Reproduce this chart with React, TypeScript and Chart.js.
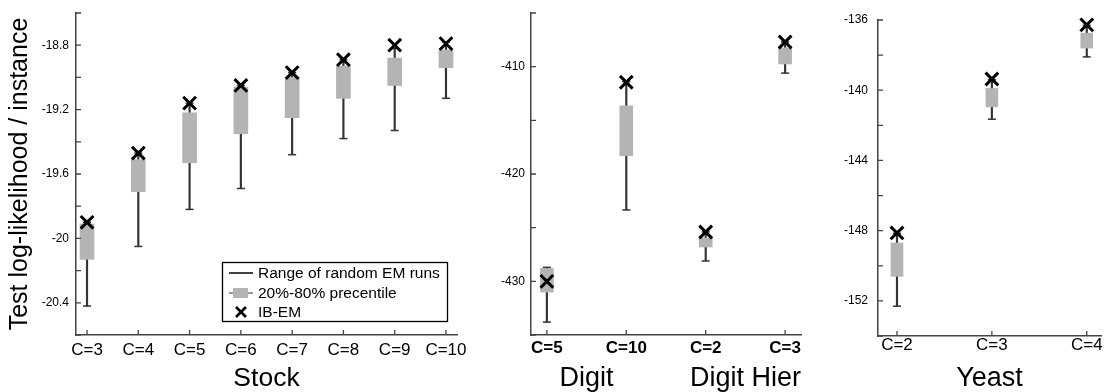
import React, { useEffect, useRef } from 'react';
import { Chart, registerables } from 'chart.js';

Chart.register(...registerables);

const FONT = '"Liberation Sans", Arial, Helvetica, sans-serif';
const AXIS_COLOR = '#444444';
const BOX_COLOR = '#b4b4b4';
const WHISKER_COLOR = '#333333';

// ---------- Stock ----------
const stockCategories = ['C=3', 'C=4', 'C=5', 'C=6', 'C=7', 'C=8', 'C=9', 'C=10'];
const stockPositions = [3, 4, 5, 6, 7, 8, 9, 10];
const stockRangeLow = [-20.42, -20.05, -19.82, -19.69, -19.48, -19.38, -19.33, -19.13];
const stockRangeHigh = [-19.9, -19.47, -19.16, -19.05, -18.97, -18.89, -18.82, -18.78];
const stockBoxLow = [-20.13, -19.71, -19.53, -19.35, -19.25, -19.13, -19.05, -18.94];
const stockBoxHigh = [-19.91, -19.51, -19.22, -19.06, -19.0, -18.93, -18.88, -18.83];
const stockIBEM = [-19.9, -19.47, -19.16, -19.05, -18.97, -18.89, -18.8, -18.79];

// ---------- Digit / Digit Hier ----------
const digitCategories = ['C=5', 'C=10', 'C=2', 'C=3'];
const digitPositions = [1, 2, 3, 4];
const digitRangeLow = [-433.8, -423.35, -428.1, -410.6];
const digitRangeHigh = [-428.7, -411.4, -425.4, -407.7];
const digitBoxLow = [-431.0, -418.3, -426.8, -409.75];
const digitBoxHigh = [-428.8, -413.65, -425.95, -408.25];
const digitIBEM = [-430.0, -411.45, -425.4, -407.7];
const digitGroupTitles = ['Digit', 'Digit Hier'];
const digitGroupCenters = [1.5, 3.5];

// ---------- Yeast ----------
const yeastCategories = ['C=2', 'C=3', 'C=4'];
const yeastPositions = [1, 2, 3];
const yeastRangeLow = [-152.3, -141.65, -138.1];
const yeastRangeHigh = [-148.15, -139.4, -136.3];
const yeastBoxLow = [-150.6, -140.95, -137.6];
const yeastBoxHigh = [-148.7, -139.9, -136.75];
const yeastIBEM = [-148.13, -139.36, -136.28];

// legend labels
const legendLabels = ['Range of random EM runs', '20%-80% precentile', 'IB-EM'];

type PanelProps = {
  left: number;
  width: number;
  categories: string[];
  positions: number[];
  rangeLow: number[];
  rangeHigh: number[];
  boxLow: number[];
  boxHigh: number[];
  ibem: number[];
  xMin: number;
  xMax: number;
  yMin: number;
  yMax: number;
  yStep: number;
  labelBase: number;
  labelStep: number;
  decimals: number;
  yWidth: number;
  yPad: number;
  padTop: number;
  padRight: number;
  xHeight: number;
  xPad: number;
  xBold: boolean;
  boxWidth: number;
  xTitle?: string;
  xTitleSize?: number;
  yTitle?: string;
  showLegend?: boolean;
  groupTitles?: string[];
  groupCenters?: number[];
};

const innerTicks = {
  id: 'innerTicks',
  afterDatasetsDraw(chart: any) {
    const { ctx, chartArea: a, scales } = chart;
    const x = scales.x;
    const y = scales.y;
    ctx.save();
    ctx.strokeStyle = AXIS_COLOR;
    ctx.lineWidth = 1.3;
    ctx.beginPath();
    y.ticks.forEach((t: any) => {
      const py = y.getPixelForValue(t.value);
      ctx.moveTo(a.left, py);
      ctx.lineTo(a.left + 5, py);
    });
    x.ticks.forEach((t: any) => {
      const px = x.getPixelForValue(t.value);
      ctx.moveTo(px, a.bottom);
      ctx.lineTo(px, a.bottom - 5);
    });
    ctx.stroke();
    ctx.restore();
  },
};

function makeLegendPlugin() {
  return {
    id: 'boxLegend',
    afterDraw(chart: any) {
      const ctx = chart.ctx;
      const bx = 222;
      const by = 262;
      const bw = 225;
      const bh = 59;
      ctx.save();
      ctx.fillStyle = '#ffffff';
      ctx.fillRect(bx, by, bw, bh);
      ctx.strokeStyle = '#000';
      ctx.lineWidth = 1.3;
      ctx.strokeRect(bx + 0.5, by + 0.5, bw, bh);
      const rows = [273, 293, 312];
      ctx.strokeStyle = '#000';
      ctx.lineWidth = 1.5;
      ctx.beginPath();
      ctx.moveTo(229, rows[0]);
      ctx.lineTo(253, rows[0]);
      ctx.stroke();
      ctx.strokeStyle = WHISKER_COLOR;
      ctx.lineWidth = 1;
      ctx.beginPath();
      ctx.moveTo(229, rows[1]);
      ctx.lineTo(253, rows[1]);
      ctx.stroke();
      ctx.fillStyle = BOX_COLOR;
      ctx.fillRect(233, rows[1] - 5, 15, 10);
      ctx.strokeStyle = '#000';
      ctx.lineWidth = 2.6;
      ctx.beginPath();
      ctx.moveTo(236, rows[2] - 5);
      ctx.lineTo(246, rows[2] + 5);
      ctx.moveTo(246, rows[2] - 5);
      ctx.lineTo(236, rows[2] + 5);
      ctx.stroke();
      ctx.fillStyle = '#000';
      ctx.font = `15.5px ${FONT}`;
      ctx.textAlign = 'left';
      ctx.textBaseline = 'middle';
      legendLabels.forEach((l, i) => ctx.fillText(l, 258, rows[i] + 1));
      ctx.restore();
    },
  };
}

function makeGroupTitlePlugin(titles: string[], centers: number[]) {
  return {
    id: 'groupTitles',
    afterDraw(chart: any) {
      const ctx = chart.ctx;
      const x = chart.scales.x;
      ctx.save();
      ctx.fillStyle = '#000';
      ctx.font = `27px ${FONT}`;
      ctx.textAlign = 'center';
      ctx.textBaseline = 'middle';
      titles.forEach((t, i) => ctx.fillText(t, x.getPixelForValue(centers[i]), 379));
      ctx.restore();
    },
  };
}

function BoxPanel(p: PanelProps) {
  const ref = useRef<HTMLCanvasElement | null>(null);
  useEffect(() => {
    if (!ref.current) return;
    const whiskers = p.positions.map((x, i) => ({ x, y: [p.rangeLow[i], p.rangeHigh[i]] }));
    const caps = [
      ...p.positions.map((x, i) => ({ x, y: p.rangeLow[i] })),
      ...p.positions.map((x, i) => ({ x, y: p.rangeHigh[i] })),
    ];
    const boxes = p.positions.map((x, i) => ({ x, y: [p.boxLow[i], p.boxHigh[i]] }));
    const ib = p.positions.map((x, i) => ({ x, y: p.ibem[i] }));
    const isLabel = (v: number) => {
      const k = (v - p.labelBase) / p.labelStep;
      return Math.abs(k - Math.round(k)) < 1e-6;
    };
    const plugins: any[] = [innerTicks];
    if (p.showLegend) plugins.push(makeLegendPlugin());
    if (p.groupTitles && p.groupCenters) plugins.push(makeGroupTitlePlugin(p.groupTitles, p.groupCenters));

    const chart = new Chart(ref.current, {
      type: 'bar',
      data: {
        datasets: [
          {
            type: 'bar',
            label: legendLabels[0],
            data: whiskers as any,
            backgroundColor: WHISKER_COLOR,
            borderWidth: 0,
            barThickness: 1.5,
            grouped: false,
            order: 4,
          } as any,
          {
            type: 'scatter',
            label: 'caps',
            data: caps,
            pointStyle: 'line',
            pointRadius: 4,
            pointHoverRadius: 4,
            borderColor: WHISKER_COLOR,
            backgroundColor: WHISKER_COLOR,
            borderWidth: 1.5,
            order: 3,
            clip: false,
          } as any,
          {
            type: 'bar',
            label: legendLabels[1],
            data: boxes as any,
            backgroundColor: BOX_COLOR,
            borderWidth: 0,
            barThickness: p.boxWidth,
            grouped: false,
            order: 2,
          } as any,
          {
            type: 'scatter',
            label: legendLabels[2],
            data: ib,
            pointStyle: 'crossRot',
            pointRadius: 9,
            pointHoverRadius: 9,
            borderColor: '#000',
            backgroundColor: '#000',
            borderWidth: 3,
            order: 1,
            clip: false,
          } as any,
        ],
      },
      options: {
        animation: false,
        responsive: false,
        devicePixelRatio: 1,
        events: [],
        layout: { padding: { left: 0, top: p.padTop, right: p.padRight, bottom: 0 } },
        plugins: {
          legend: { display: false },
          tooltip: { enabled: false },
        },
        scales: {
          x: {
            type: 'linear',
            position: 'bottom',
            min: p.xMin,
            max: p.xMax,
            offset: false,
            afterBuildTicks: (s: any) => {
              s.ticks = p.positions.map((v) => ({ value: v }));
            },
            afterFit: (s: any) => {
              s.height = p.xHeight;
            },
            grid: { display: false },
            border: { display: true, color: AXIS_COLOR, width: 1.5 },
            ticks: {
              autoSkip: false,
              maxRotation: 0,
              padding: p.xPad,
              color: '#000',
              font: { family: FONT, size: 17, weight: p.xBold ? 'bold' : 'normal' },
              callback: (_v: any, i: number) => p.categories[i],
            },
            title: {
              display: !!p.xTitle,
              text: p.xTitle || '',
              color: '#000',
              font: { family: FONT, size: p.xTitleSize || 27, lineHeight: 1 },
              padding: { top: 0, bottom: 0 },
            },
          } as any,
          y: {
            type: 'linear',
            min: p.yMin,
            max: p.yMax,
            beginAtZero: false,
            afterFit: (s: any) => {
              s.width = p.yWidth;
            },
            grid: { display: false },
            border: { display: true, color: AXIS_COLOR, width: 1.5 },
            ticks: {
              stepSize: p.yStep,
              autoSkip: false,
              padding: p.yPad,
              color: '#000',
              font: { family: FONT, size: 12 },
              callback: (v: any) => (isLabel(Number(v)) ? String(Number(Number(v).toFixed(p.decimals))) : ''),
            },
            title: {
              display: !!p.yTitle,
              text: p.yTitle || '',
              color: '#000',
              font: { family: FONT, size: 25 },
              padding: { top: 5, bottom: 0 },
            },
          } as any,
        },
      },
      plugins,
    } as any);
    return () => chart.destroy();
  }, []);
  return (
    <canvas
      ref={ref}
      width={p.width}
      height={392}
      style={{ position: 'absolute', left: p.left, top: 0, width: p.width, height: 392 }}
    />
  );
}

export default function App() {
  return (
    <div style={{ position: 'absolute', left: 0, top: 0, width: 1113, height: 392, background: '#fff', overflow: 'hidden' }}>
      <BoxPanel
        left={0}
        width={470}
        categories={stockCategories}
        positions={stockPositions}
        rangeLow={stockRangeLow}
        rangeHigh={stockRangeHigh}
        boxLow={stockBoxLow}
        boxHigh={stockBoxHigh}
        ibem={stockIBEM}
        xMin={2.785}
        xMax={10.215}
        yMin={-20.6}
        yMax={-18.6}
        yStep={0.2}
        labelBase={-18.8}
        labelStep={0.4}
        decimals={1}
        yWidth={76}
        yPad={-1}
        padTop={13}
        padRight={13}
        xHeight={57}
        xPad={-3}
        xBold={false}
        boxWidth={14}
        xTitle="Stock"
        xTitleSize={26.5}
        yTitle="Test log-likelihood / instance"
        showLegend={true}
      />
      <BoxPanel
        left={470}
        width={345}
        categories={digitCategories}
        positions={digitPositions}
        rangeLow={digitRangeLow}
        rangeHigh={digitRangeHigh}
        boxLow={digitBoxLow}
        boxHigh={digitBoxHigh}
        ibem={digitIBEM}
        xMin={0.8}
        xMax={4.2}
        yMin={-435}
        yMax={-405}
        yStep={5}
        labelBase={-410}
        labelStep={10}
        decimals={0}
        yWidth={61}
        yPad={-2}
        padTop={13}
        padRight={14}
        xHeight={57}
        xPad={-5}
        xBold={true}
        boxWidth={13}
        groupTitles={digitGroupTitles}
        groupCenters={digitGroupCenters}
      />
      <BoxPanel
        left={815}
        width={298}
        categories={yeastCategories}
        positions={yeastPositions}
        rangeLow={yeastRangeLow}
        rangeHigh={yeastRangeHigh}
        boxLow={yeastBoxLow}
        boxHigh={yeastBoxHigh}
        ibem={yeastIBEM}
        xMin={0.8}
        xMax={3.15}
        yMin={-154}
        yMax={-136}
        yStep={2}
        labelBase={-136}
        labelStep={4}
        decimals={0}
        yWidth={63}
        yPad={2}
        padTop={20}
        padRight={0}
        xHeight={56}
        xPad={-9}
        xBold={false}
        boxWidth={12}
        xTitle="Yeast"
        xTitleSize={27}
      />
    </div>
  );
}
